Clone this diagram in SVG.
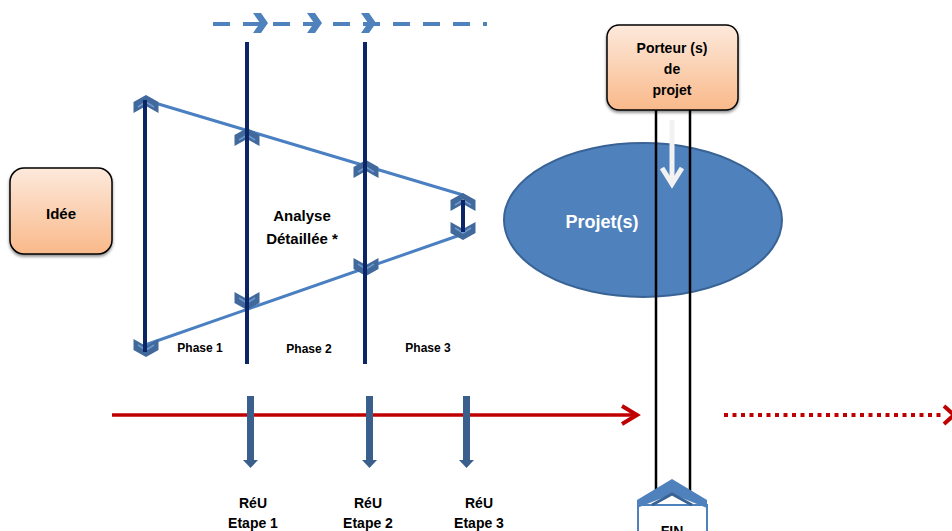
<svg xmlns="http://www.w3.org/2000/svg" width="952" height="531" viewBox="0 0 952 531">
<defs>
<style>
.lbl{font-family:"Liberation Sans",Arial,sans-serif;font-weight:bold;fill:#000;text-anchor:middle}
.navy{stroke:#0b2566;stroke-width:4;fill:none}
.tri{stroke:#4a7fc1;stroke-width:3;fill:none}
.chev{fill:#41699c}
.chevs{fill:none;stroke:#6d98cc;stroke-width:1.5}
.stepar{fill:#3b5f8c}
.box{stroke:#000;stroke-width:1.5}
</style>
<linearGradient id="peach" x1="0" y1="0" x2="0" y2="1">
<stop offset="0" stop-color="#fde9dc"/>
<stop offset="1" stop-color="#f9b98a"/>
</linearGradient>
<filter id="sh" x="-20%" y="-20%" width="140%" height="150%">
<feDropShadow dx="0" dy="2" stdDeviation="1.5" flood-color="#000" flood-opacity="0.45"/>
</filter>
<g id="chevUp">
<polygon class="chev" points="-12.5,7 0,0 12.5,7 12.5,18 0,11 -12.5,18"/>
<polyline class="chevs" points="-8,12 0,7 8,12"/>
</g>
<g id="chevDown">
<polygon class="chev" points="-12.5,-7 0,0 12.5,-7 12.5,-18 0,-11 -12.5,-18"/>
<polyline class="chevs" points="-8,-12 0,-7 8,-12"/>
</g>
<polygon id="chevR" fill="#4f81bd" points="-15,-10 -7,-10 0,0 -7,10 -15,10 -8,0"/>
</defs>
<rect width="952" height="531" fill="#fff"/>

<g id="connectors">
<line x1="213" y1="24" x2="487" y2="24" stroke="#4f81bd" stroke-width="4" stroke-dasharray="17 13"/>
<use href="#chevR" x="268" y="23"/>
<use href="#chevR" x="322" y="23"/>
<use href="#chevR" x="376" y="23"/>
<line class="tri" x1="145" y1="100" x2="463" y2="195"/>
<line class="tri" x1="145" y1="345" x2="463" y2="234"/>
<use href="#chevUp" x="146" y="95"/>
<use href="#chevUp" x="247" y="128"/>
<use href="#chevUp" x="366" y="160"/>
<use href="#chevUp" x="463" y="193"/>
<use href="#chevDown" x="463" y="240"/>
<use href="#chevDown" x="366" y="276"/>
<use href="#chevDown" x="247" y="310"/>
<use href="#chevDown" x="146" y="357"/>
<line class="navy" x1="145" y1="100" x2="145" y2="352"/>
<line class="navy" x1="247" y1="42" x2="247" y2="364"/>
<line class="navy" x1="365" y1="42" x2="365" y2="364"/>
<line class="navy" x1="463" y1="200" x2="463" y2="232"/>
<line x1="112" y1="415" x2="636" y2="415" stroke="#c00000" stroke-width="3.5"/>
<polyline points="622,406 637,415 622,424" fill="none" stroke="#c00000" stroke-width="4"/>
<line x1="724" y1="415" x2="944" y2="415" stroke="#c00000" stroke-width="4" stroke-dasharray="4 4.5"/>
<polyline points="944,406 954,415 944,424" fill="none" stroke="#c00000" stroke-width="4"/>
<g class="stepar">
<rect x="247" y="396" width="7" height="64"/><polygon points="243,460 258,460 250.5,468"/>
<rect x="366" y="396" width="7" height="64"/><polygon points="362,460 377,460 369.5,468"/>
<rect x="463" y="396" width="7" height="64"/><polygon points="459,460 474,460 466.5,468"/>
</g>
</g>

<g id="projet">
<ellipse cx="643" cy="220" rx="139" ry="77" fill="#4f81bd" stroke="#3a6395" stroke-width="2"/>
<text class="lbl" x="602" y="228" font-size="18" style="fill:#fff">Projet(s)</text>
</g>

<g id="porteur-lines">
<line x1="656" y1="110" x2="656" y2="496" stroke="#000" stroke-width="2.5"/>
<line x1="690" y1="110" x2="690" y2="496" stroke="#000" stroke-width="2.5"/>
<line x1="672" y1="120" x2="672" y2="182" stroke="#f2f2f2" stroke-width="5"/>
<polyline points="662,168 672,184 682,168" fill="none" stroke="#f2f2f2" stroke-width="5"/>
</g>

<g id="idee">
<rect class="box" x="10" y="168" width="102" height="86" rx="14" fill="url(#peach)" filter="url(#sh)"/>
<text class="lbl" x="61" y="219" font-size="15">Idée</text>
</g>

<g id="porteur">
<rect class="box" x="607" y="25" width="131" height="85" rx="12" fill="url(#peach)" filter="url(#sh)"/>
<text class="lbl" x="672" y="53" font-size="14">Porteur (s)</text>
<text class="lbl" x="672" y="74" font-size="14">de</text>
<text class="lbl" x="672" y="95" font-size="14">projet</text>
</g>

<g id="analyse">
<text class="lbl" x="302" y="221" font-size="15">Analyse</text>
<text class="lbl" x="302" y="244" font-size="15">Détaillée *</text>
</g>

<g id="phases">
<text class="lbl" x="200" y="352" font-size="12">Phase 1</text>
<text class="lbl" x="309" y="353" font-size="12">Phase 2</text>
<text class="lbl" x="428" y="352" font-size="12">Phase 3</text>
</g>

<g id="etapes">
<text class="lbl" x="253" y="508" font-size="14">RéU</text>
<text class="lbl" x="253" y="528" font-size="14">Etape 1</text>
<text class="lbl" x="368" y="508" font-size="14">RéU</text>
<text class="lbl" x="368" y="528" font-size="14">Etape 2</text>
<text class="lbl" x="479" y="508" font-size="14">RéU</text>
<text class="lbl" x="479" y="528" font-size="14">Etape 3</text>
</g>

<g id="fin">
<rect x="638" y="505" width="69" height="40" fill="#fff" stroke="#4f81bd" stroke-width="2"/>
<polygon points="637,500 672,479 707,500 707,508 672,494 637,508" fill="#4f81bd"/>
<polyline points="652,505 672,494 692,505" fill="none" stroke="#3a6395" stroke-width="3"/>
<text class="lbl" x="672" y="536" font-size="14">FIN</text>
</g>
</svg>
